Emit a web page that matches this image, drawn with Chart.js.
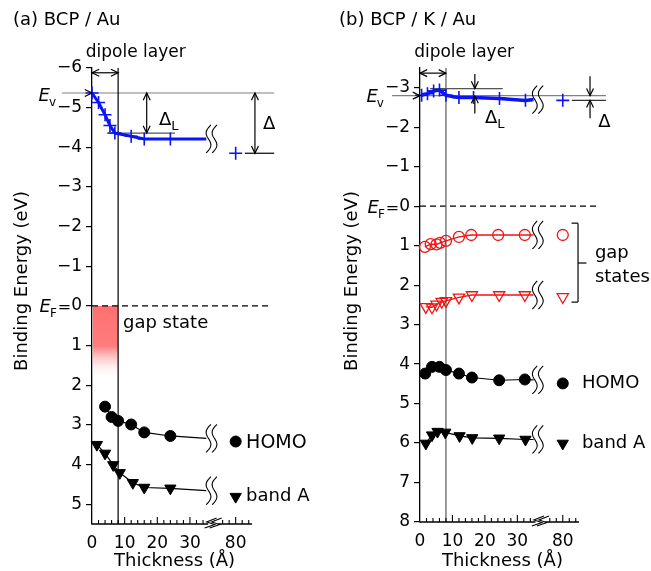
<!DOCTYPE html>
<html><head><meta charset="utf-8">
<script src="https://cdn.jsdelivr.net/npm/chart.js@4.4.0/dist/chart.umd.min.js"></script>
<style>
html,body{margin:0;padding:0;background:#fff;}
#wrap{position:relative;width:651px;height:571px;background:#fff;}
#ca{position:absolute;left:0;top:0;}
#cb{position:absolute;left:330px;top:0;}
</style></head><body>
<div id="wrap">
<canvas id="ca" width="330" height="571"></canvas>
<canvas id="cb" width="321" height="571"></canvas>
</div>
<script>
// ---------- DATA ----------
// x tick labels (broken thickness axis)
const xTickVals = [0, 10, 20, 30, 80];
const xTickLabels = ['0', '10', '20', '30', '80'];
const xMajorTicks = [10, 20, 30, 80];
const xMinorTicks = [2, 4, 6, 8, 12, 14, 16, 18, 22, 24, 26, 28, 32, 34, 76, 78, 82, 84];
const yTicksA = [-6, -5, -4, -3, -2, -1, 0, 1, 2, 3, 4, 5];
const yTicksB = [-3, -2, -1, 0, 1, 2, 3, 4, 5, 6, 7, 8];

// Panel (a) BCP / Au
const thickA_ev   = [0, 2, 4, 5.5, 7, 12, 16, 24, 80];
const evA         = [-5.37, -5.13, -4.82, -4.55, -4.36, -4.28, -4.21, -4.21, -3.85];
const thickA_homo = [4, 6, 8, 12, 16, 24, 80];
const homoA       = [2.54, 2.80, 2.90, 2.99, 3.19, 3.28, 3.42];
const thickA_band = [1.5, 4, 6.5, 8.5, 12.5, 16, 24, 80];
const bandA       = [3.50, 3.72, 4.01, 4.21, 4.46, 4.58, 4.60, 4.81];

// Panel (b) BCP / K / Au
const thickB_ev   = [0.5, 2.3, 4.2, 6, 8, 12, 16.5, 24.5, 32.5, 80];
const evB         = [-2.81, -2.85, -2.92, -2.94, -2.81, -2.75, -2.75, -2.73, -2.68, -2.68];
const thickB_gc   = [1.5, 3.3, 5.1, 6.2, 8, 12, 15.8, 24.1, 32.3, 80];
const gapCircB    = [1.03, 0.96, 0.97, 0.93, 0.88, 0.78, 0.73, 0.73, 0.73, 0.73];
const thickB_gt   = [1.8, 3.7, 5.1, 6.7, 8, 12, 16, 24.4, 32.3, 80];
const gapTriB     = [2.55, 2.56, 2.49, 2.42, 2.40, 2.31, 2.25, 2.25, 2.25, 2.30];
const thickB_homo = [1.6, 3.7, 6, 8, 12, 16, 24.4, 32.3, 80];
const homoB       = [4.24, 4.07, 4.07, 4.15, 4.24, 4.34, 4.41, 4.39, 4.49];
const thickB_band = [1.8, 3.7, 5.4, 7.8, 12.2, 16.1, 24.4, 32.5, 80];
const bandB       = [6.01, 5.80, 5.71, 5.73, 5.82, 5.87, 5.88, 5.91, 6.01];

// where each drawn line stops at the axis break, and its value there
const breakT = 35;
const endA = { ev: -4.21, homo: 3.34, band: 4.66 };
const endB = { ev: -2.70, gc: 0.73, gt: 2.25, homo: 4.40, band: 5.91 };

// ---------- HELPERS ----------
const FONT = 'DejaVu Sans';
Chart.defaults.font.family = FONT;
Chart.defaults.color = '#000';
const BLUE = 'rgb(10,20,245)', RED = 'rgb(240,20,20)';
const TICK_SIZE = 17;
const brk = t => (t >= 60 ? 44 + (t - 80) : t);
const pts = (ts, es) => ts.map((t, i) => ({ x: brk(t), y: es[i] }));
const linePts = (ts, es, end) => [...pts(ts.slice(0, -1), es.slice(0, -1)), { x: breakT, y: end }];
const fmtY = v => (v < 0 ? '\u2212' + Math.abs(v) : String(v));

function lineDS(data, color, width) {
  return { data, borderColor: color, borderWidth: width, pointRadius: 0, pointHoverRadius: 0, fill: false, tension: 0, clip: false };
}
function markDS(data, style, color, fill, r, rot, bw) {
  return { data, showLine: false, pointStyle: style, pointRadius: r, pointHoverRadius: r, pointRotation: rot || 0,
    pointBorderColor: color, pointBackgroundColor: fill, pointBorderWidth: bw || 1.3,
    borderColor: color, backgroundColor: fill, clip: false };
}
function txt(ctx, s, x, y, o) {
  o = o || {};
  ctx.font = (o.italic ? 'italic ' : '') + (o.size || 18) + 'px "' + FONT + '"';
  ctx.fillStyle = o.color || '#000';
  ctx.textAlign = o.align || 'left';
  ctx.textBaseline = o.base || 'alphabetic';
  ctx.fillText(s, x, y);
}
function subLabel(ctx, main, sub, x, y, o) {
  o = o || {};
  const size = o.size || 18, subSize = o.subSize || 12, italic = o.italic !== false;
  ctx.font = (italic ? 'italic ' : '') + size + 'px "' + FONT + '"';
  const w1 = ctx.measureText(main).width;
  ctx.font = subSize + 'px "' + FONT + '"';
  const w2 = ctx.measureText(sub).width;
  let w3 = 0;
  if (o.trail) { ctx.font = (o.trailSize || 16) + 'px "' + FONT + '"'; w3 = ctx.measureText(o.trail).width; }
  const x0 = o.align === 'right' ? x - (w1 + w2 + w3) : x;
  txt(ctx, main, x0, y, { size, italic });
  txt(ctx, sub, x0 + w1 - (italic ? 1 : 0), y + 5, { size: subSize });
  if (o.trail) txt(ctx, o.trail, x0 + w1 + w2, y, { size: o.trailSize || 16 });
}
function line(ctx, x1, y1, x2, y2, col, w, dash) {
  ctx.save();
  ctx.beginPath();
  ctx.strokeStyle = col || '#000';
  ctx.lineWidth = w || 1.2;
  ctx.setLineDash(dash || []);
  ctx.moveTo(x1, y1); ctx.lineTo(x2, y2); ctx.stroke();
  ctx.restore();
}
function head(ctx, x, y, ang, col) {
  const L = 8, a = Math.PI / 7;
  ctx.save();
  ctx.beginPath();
  ctx.strokeStyle = col || '#000'; ctx.lineWidth = 1.2;
  ctx.moveTo(x - L * Math.cos(ang - a), y - L * Math.sin(ang - a));
  ctx.lineTo(x, y);
  ctx.lineTo(x - L * Math.cos(ang + a), y - L * Math.sin(ang + a));
  ctx.stroke();
  ctx.restore();
}
function arrow(ctx, x1, y1, x2, y2, both) {
  line(ctx, x1, y1, x2, y2, '#000', 1.2);
  const ang = Math.atan2(y2 - y1, x2 - x1);
  head(ctx, x2, y2, ang);
  if (both) head(ctx, x1, y1, ang + Math.PI);
}
function wave(ctx, x, y) {
  ctx.save();
  ctx.strokeStyle = '#000'; ctx.lineWidth = 1.1;
  for (const dx of [-3, 3]) {
    ctx.beginPath();
    for (let i = 0; i <= 30; i++) {
      const s = i / 30;
      const xx = x + dx + 4 * (0.5 - s) * 1.2 - 3.5 * Math.sin(2 * Math.PI * s);
      const yy = y - 14 + 28 * s;
      if (i === 0) ctx.moveTo(xx, yy); else ctx.lineTo(xx, yy);
    }
    ctx.stroke();
  }
  ctx.restore();
}
function drawXAxis(chart) {
  const ctx = chart.ctx, X = v => chart.scales.x.getPixelForValue(brk(v));
  const y0 = chart.chartArea.bottom, right = chart.chartArea.right;
  line(ctx, X(0) - 0.6, y0, X(35.6), y0, '#000', 1.3);
  line(ctx, X(74.6), y0, right, y0, '#000', 1.3);
  for (const t of xMinorTicks) line(ctx, X(t), y0, X(t), y0 - 4, '#000', 1.1);
  for (const t of xMajorTicks) line(ctx, X(t), y0, X(t), y0 - 7, '#000', 1.1);
  // axis break mark
  const bx = (X(35.6) + X(74.6)) / 2;
  ctx.save(); ctx.strokeStyle = '#000'; ctx.lineWidth = 1.1;
  for (const dx of [-2.5, 2.5]) {
    ctx.beginPath();
    ctx.moveTo(bx + dx - 6, y0 + 4);
    ctx.lineTo(bx + dx + 4, y0 + 0.5);
    ctx.lineTo(bx + dx - 4, y0 - 2);
    ctx.lineTo(bx + dx + 6, y0 - 6);
    ctx.stroke();
  }
  ctx.restore();
}
function yTitle(ctx, cx, cy) {
  ctx.save(); ctx.translate(cx, cy); ctx.rotate(-Math.PI / 2);
  txt(ctx, 'Binding Energy (eV)', 0, 0, { size: 18, align: 'center', base: 'middle' });
  ctx.restore();
}
function efLabel(chart) {
  const ctx = chart.ctx, X = v => chart.scales.x.getPixelForValue(v), Y = v => chart.scales.y.getPixelForValue(v);
  ctx.font = TICK_SIZE + 'px "' + FONT + '"';
  const w0 = ctx.measureText('0').width;
  subLabel(ctx, 'E', 'F', X(0) - 10 - w0, Y(0) + 6.5, { size: 18, subSize: 12, align: 'right', trail: '=', trailSize: 16 });
}

function baseOptions(pad, yW, xH, yMin, yMax, yTicks) {
  return {
    responsive: false, animation: false, events: [],
    layout: { padding: pad },
    plugins: { legend: { display: false }, tooltip: { enabled: false }, title: { display: false } },
    scales: {
      x: {
        type: 'linear', min: 0, max: 49,
        afterBuildTicks: s => { s.ticks = xTickVals.map(v => ({ value: brk(v) })); },
        ticks: { callback: (v, i) => xTickLabels[i], autoSkip: false, maxRotation: 0, padding: 9, color: '#000', font: { size: TICK_SIZE } },
        grid: { display: false, drawTicks: false }, border: { display: false },
        afterFit: s => { s.height = xH; }
      },
      y: {
        type: 'linear', reverse: true, min: yMin, max: yMax,
        afterBuildTicks: s => { s.ticks = yTicks.map(v => ({ value: v })); },
        ticks: { callback: v => fmtY(v), padding: 4, color: '#000', font: { size: TICK_SIZE }, autoSkip: false },
        grid: { drawOnChartArea: false, drawTicks: true, tickLength: 6, color: '#000', lineWidth: 1.2 },
        border: { display: true, color: '#000', width: 1.3 },
        afterFit: s => { s.width = yW; }
      }
    }
  };
}

// ---------- PANEL (a) ----------
const annA = {
  id: 'annA',
  beforeDatasetsDraw(chart) {
    const ctx = chart.ctx, X = v => chart.scales.x.getPixelForValue(v), Y = v => chart.scales.y.getPixelForValue(v);
    const g = ctx.createLinearGradient(0, Y(0), 0, Y(1.85));
    g.addColorStop(0, 'rgb(255,112,112)');
    g.addColorStop(0.55, 'rgb(255,125,125)');
    g.addColorStop(1, 'rgba(255,255,255,0)');
    ctx.fillStyle = g;
    ctx.fillRect(X(0) + 0.7, Y(0), X(8) - X(0) - 0.7, Y(1.85) - Y(0));
    line(ctx, X(0), Y(0), X(54.4), Y(0), '#000', 1.2, [6, 4]);
    line(ctx, X(-9.2), Y(-5.37), X(55.8), Y(-5.37), '#808080', 1.2);
    line(ctx, X(4.6), Y(-4.36), X(25.4), Y(-4.36), '#555', 1.2);
    line(ctx, X(46.8), Y(-3.85), X(55.8), Y(-3.85), '#000', 1.2);
    line(ctx, X(8), Y(-6), X(8), Y(5.5), '#000', 1.2);
  },
  afterDatasetsDraw(chart) {
    const ctx = chart.ctx, X = v => chart.scales.x.getPixelForValue(v), Y = v => chart.scales.y.getPixelForValue(v);
    wave(ctx, X(36.6), Y(endA.ev));
    wave(ctx, X(36.6), Y(endA.homo));
    wave(ctx, X(36.6), Y(endA.band));
    drawXAxis(chart);
    head(ctx, X(0), Y(-5.37), 0);
    arrow(ctx, X(0), Y(-5.88), X(8), Y(-5.88), true);
    arrow(ctx, X(16.75), Y(-5.37), X(16.75), Y(-4.36), true);
    arrow(ctx, X(49.9), Y(-5.37), X(49.9), Y(-3.85), true);
    txt(ctx, '(a) BCP / Au', 13, 25, { size: 18 });
    txt(ctx, 'dipole layer', X(13.4), Y(-6.29), { size: 17, align: 'center' });
    subLabel(ctx, 'E', 'v', X(-10.7), Y(-5.17), { size: 18, subSize: 12, align: 'right' });
    efLabel(chart);
    txt(ctx, 'gap state', X(9.5), Y(0.55), { size: 18 });
    subLabel(ctx, '\u0394', 'L', X(20.5), Y(-4.57), { size: 18, subSize: 13, italic: false });
    txt(ctx, '\u0394', X(52.4), Y(-4.45), { size: 18 });
    txt(ctx, 'HOMO', X(47.2), Y(3.45), { size: 19, base: 'middle' });
    txt(ctx, 'band A', X(47.2), Y(4.81), { size: 18, base: 'middle' });
    txt(ctx, 'Thickness (\u00C5)', X(25.3), Y(6.55), { size: 18, align: 'center' });
    yTitle(ctx, 22, 281);
  }
};
const optA = baseOptions({ left: 0, right: 78, top: 68, bottom: 0 }, 92, 47, -6, 5.5, yTicksA);
new Chart(document.getElementById('ca'), {
  type: 'line',
  data: {
    datasets: [
      markDS(pts(thickA_ev, evA), 'cross', BLUE, BLUE, 6.5, 0, 1.6),
      markDS(pts(thickA_homo, homoA), 'circle', '#000', '#000', 5.5, 0, 1),
      markDS(pts(thickA_band, bandA), 'triangle', '#000', '#000', 6.5, 180, 1),
      lineDS(linePts(thickA_ev, evA, endA.ev), BLUE, 3),
      lineDS(linePts(thickA_homo, homoA, endA.homo), '#000', 1.2),
      lineDS(linePts(thickA_band, bandA, endA.band), '#000', 1.2)
    ]
  },
  options: optA,
  plugins: [annA]
});

// ---------- PANEL (b) ----------
const annB = {
  id: 'annB',
  beforeDatasetsDraw(chart) {
    const ctx = chart.ctx, X = v => chart.scales.x.getPixelForValue(v), Y = v => chart.scales.y.getPixelForValue(v);
    line(ctx, X(0), Y(0), X(54.8), Y(0), '#000', 1.2, [6, 4]);
    line(ctx, X(-8.6), Y(-2.80), X(57.3), Y(-2.80), '#808080', 1.2);
    line(ctx, X(3.1), Y(-2.98), X(25.5), Y(-2.98), '#555', 1.2);
    line(ctx, X(46.8), Y(-2.68), X(57.3), Y(-2.68), '#333', 1.2);
    line(ctx, X(8), Y(-3.5), X(8), Y(8), '#666', 1.3);
  },
  afterDatasetsDraw(chart) {
    const ctx = chart.ctx, X = v => chart.scales.x.getPixelForValue(v), Y = v => chart.scales.y.getPixelForValue(v);
    wave(ctx, X(36.3), Y(endB.ev));
    wave(ctx, X(36.3), Y(endB.gc));
    wave(ctx, X(36.3), Y(endB.gt));
    wave(ctx, X(36.3), Y(endB.homo));
    wave(ctx, X(36.3), Y(endB.band));
    drawXAxis(chart);
    head(ctx, X(0), Y(-2.80), 0);
    arrow(ctx, X(0), Y(-3.37), X(8), Y(-3.37), true);
    arrow(ctx, X(16.9), Y(-3.35), X(16.9), Y(-2.98), false);
    arrow(ctx, X(16.9), Y(-2.35), X(16.9), Y(-2.79), false);
    arrow(ctx, X(52.4), Y(-3.29), X(52.4), Y(-2.80), false);
    arrow(ctx, X(52.4), Y(-2.23), X(52.4), Y(-2.68), false);
    // gap states bracket
    line(ctx, X(46.7), Y(0.43), X(48.7), Y(0.43), '#000', 1.2);
    line(ctx, X(48.7), Y(0.43), X(48.7), Y(2.43), '#000', 1.2);
    line(ctx, X(46.7), Y(2.43), X(48.7), Y(2.43), '#000', 1.2);
    line(ctx, X(48.7), Y(1.44), X(51.3), Y(1.44), '#000', 1.2);
    txt(ctx, '(b) BCP / K / Au', 9, 25, { size: 18 });
    txt(ctx, 'dipole layer', X(13.6), Y(-3.78), { size: 17, align: 'center' });
    subLabel(ctx, 'E', 'v', X(-10.8), Y(-2.65), { size: 18, subSize: 12, align: 'right' });
    efLabel(chart);
    subLabel(ctx, '\u0394', 'L', X(20), Y(-2.11), { size: 18, subSize: 13, italic: false });
    txt(ctx, '\u0394', X(54.9), Y(-2.0), { size: 18 });
    txt(ctx, 'gap', X(53.9), Y(1.31), { size: 18 });
    txt(ctx, 'states', X(53.9), Y(1.92), { size: 18 });
    txt(ctx, 'HOMO', X(49.9), Y(4.48), { size: 18, base: 'middle' });
    txt(ctx, 'band A', X(49.9), Y(6.0), { size: 18, base: 'middle' });
    txt(ctx, 'Thickness (\u00C5)', X(25.4), Y(9.12), { size: 18, align: 'center' });
    yTitle(ctx, 22, 281);
  }
};
const optB = baseOptions({ left: 0, right: 72, top: 68, bottom: 0 }, 90, 49, -3.5, 8, yTicksB);
new Chart(document.getElementById('cb'), {
  type: 'line',
  data: {
    datasets: [
      markDS(pts(thickB_ev, evB), 'cross', BLUE, BLUE, 6.5, 0, 1.6),
      markDS(pts(thickB_gc, gapCircB), 'circle', RED, 'rgba(255,255,255,0)', 5.5, 0, 1.3),
      markDS(pts(thickB_gt, gapTriB), 'triangle', RED, 'rgba(255,255,255,0)', 6.5, 180, 1.3),
      markDS(pts(thickB_homo, homoB), 'circle', '#000', '#000', 5.5, 0, 1),
      markDS(pts(thickB_band, bandB), 'triangle', '#000', '#000', 6.5, 180, 1),
      lineDS(linePts(thickB_ev, evB, endB.ev), BLUE, 3.5),
      lineDS(linePts(thickB_gc, gapCircB, endB.gc), RED, 1.3),
      lineDS(linePts(thickB_gt, gapTriB, endB.gt), RED, 1.3),
      lineDS(linePts(thickB_homo, homoB, endB.homo), '#000', 1.2),
      lineDS(linePts(thickB_band, bandB, endB.band), '#000', 1.2)
    ]
  },
  options: optB,
  plugins: [annB]
});
</script>
</body></html>
